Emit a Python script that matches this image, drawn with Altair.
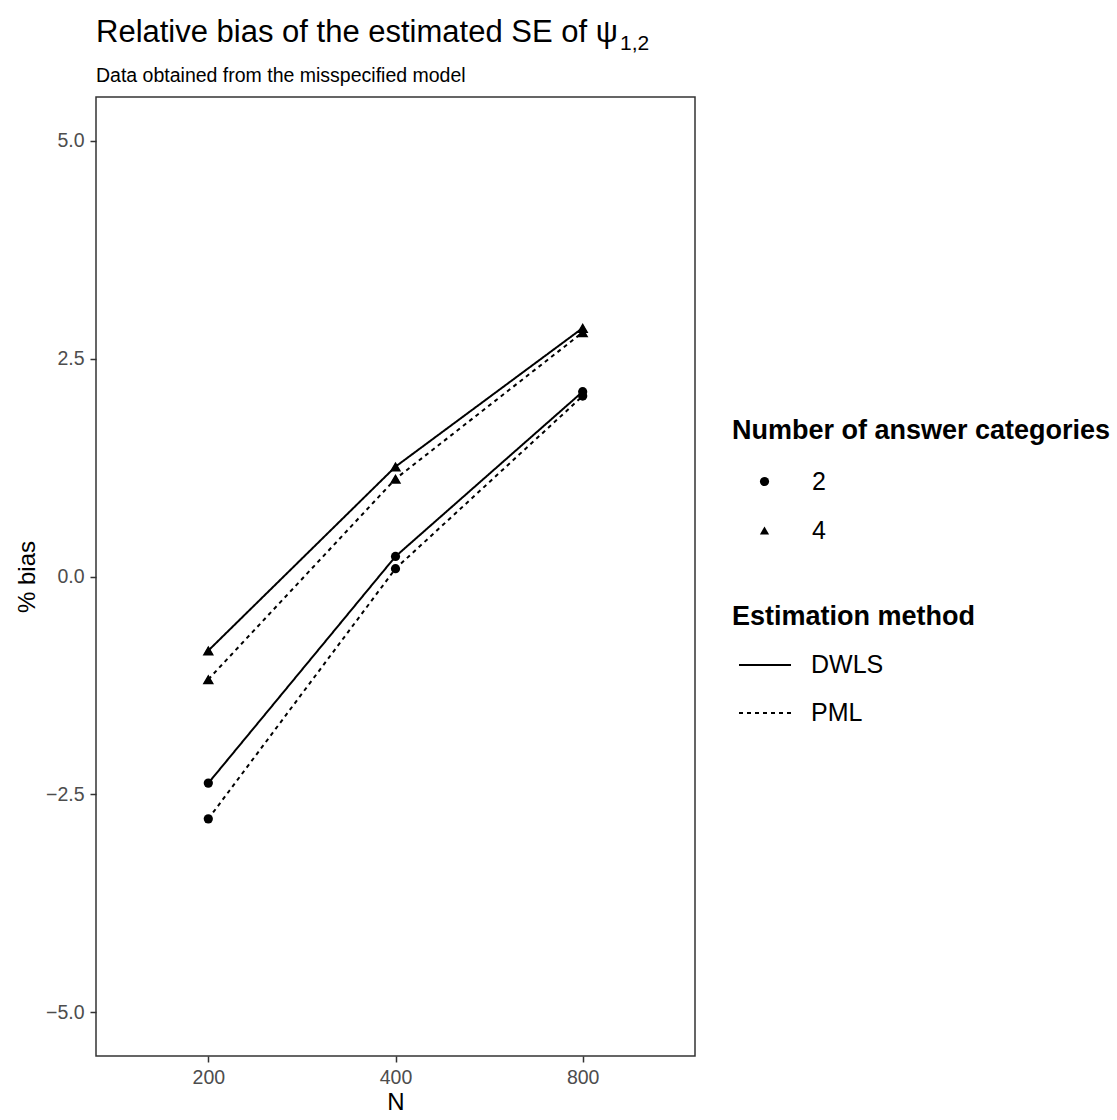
import altair as alt
import pandas as pd

# Sample sizes and the two design factors
sample_sizes = ["200", "400", "800"]
answer_categories = ["2", "2", "4", "4"]
methods = ["DWLS", "PML", "DWLS", "PML"]

# % relative bias of the estimated SE, one list per (categories, method) series
bias_values = [
    [-2.37, 0.23, 2.12],   # 2 categories, DWLS
    [-2.78, 0.09, 2.07],   # 2 categories, PML
    [-0.85, 1.26, 2.85],   # 4 categories, DWLS
    [-1.18, 1.12, 2.80],   # 4 categories, PML
]

title_text = "Relative bias of the estimated SE of  ψ"
title_subscript = "1,2"
subtitle_text = "Data obtained from the misspecified model"

rows = []
for cat, meth, series in zip(answer_categories, methods, bias_values):
    for n, v in zip(sample_sizes, series):
        rows.append({"N": n, "categories": cat, "method": meth, "bias": v})
df = pd.DataFrame(rows)

FONT = "Liberation Sans"

x_enc = alt.X(
    "N:O",
    sort=sample_sizes,
    scale=alt.Scale(type="point", padding=0.6),
    axis=alt.Axis(title="N", labelAngle=0, titlePadding=4),
)
y_enc = alt.Y(
    "bias:Q",
    scale=alt.Scale(domain=[-5.5, 5.5], nice=False, zero=False),
    axis=alt.Axis(values=[-5, -2.5, 0, 2.5, 5], format=".1f", title="% bias", titlePadding=6),
)

base = alt.Chart(df)

lines = base.mark_line(color="black", strokeWidth=2).encode(
    x=x_enc,
    y=y_enc,
    detail="categories:N",
    strokeDash=alt.StrokeDash(
        "method:N",
        scale=alt.Scale(domain=["DWLS", "PML"], range=[[1, 0], [4, 4]]),
        legend=alt.Legend(
            title="Estimation method",
            orient="none",
            legendX=636,
            legendY=507,
            symbolType="stroke",
            symbolSize=2704,
            symbolStrokeColor="black",
            symbolStrokeWidth=2,
            symbolOffset=6,
            labelOffset=19,
            rowPadding=8,
            titlePadding=7,
        ),
    ),
)

points = base.mark_point(filled=True, color="black", opacity=1, size=85).encode(
    x=x_enc,
    y=y_enc,
    shape=alt.Shape(
        "categories:N",
        scale=alt.Scale(domain=["2", "4"], range=["circle", "triangle-up"]),
        legend=alt.Legend(
            title="Number of answer categories",
            orient="none",
            legendX=636,
            legendY=321,
            symbolSize=85,
            symbolFillColor="black",
            symbolStrokeColor="black",
            symbolStrokeWidth=0,
            symbolOffset=20,
            labelOffset=35,
            rowPadding=23,
            titlePadding=24,
        ),
    ),
)

# triangles for 4 categories are drawn a little larger than the circles
triangles = base.transform_filter(alt.datum.categories == "4").mark_point(
    filled=True, color="black", opacity=1, shape="triangle-up", size=130
).encode(x=x_enc, y=y_enc)

# Title, psi subscript and subtitle drawn above the plot frame
title_mark = alt.Chart(pd.DataFrame({"t": [title_text]})).mark_text(
    align="left", baseline="alphabetic", fontSize=31, font=FONT, color="black"
).encode(text="t:N", x=alt.value(0), y=alt.value(-55))

subscript_mark = alt.Chart(pd.DataFrame({"t": [title_subscript]})).mark_text(
    align="left", baseline="alphabetic", fontSize=21, font=FONT, color="black"
).encode(text="t:N", x=alt.value(524), y=alt.value(-47))

subtitle_mark = alt.Chart(pd.DataFrame({"t": [subtitle_text]})).mark_text(
    align="left", baseline="alphabetic", fontSize=19.5, font=FONT, color="black"
).encode(text="t:N", x=alt.value(0), y=alt.value(-15))

chart = (
    alt.layer(lines, points, triangles, title_mark, subscript_mark, subtitle_mark)
    .properties(
        width=599,
        height=959,
        autosize=alt.AutoSizeParams(type="none"),
        padding={"left": 96, "top": 97, "right": 422, "bottom": 64},
    )
    .configure(font=FONT)
    .configure_view(stroke="#333333", strokeWidth=1.5)
    .configure_axis(
        grid=False,
        domain=False,
        tickColor="#333333",
        tickWidth=1.5,
        tickSize=6,
        labelColor="#4D4D4D",
        labelFontSize=19.5,
        labelPadding=6,
        titleFontSize=24,
        titleFontWeight="normal",
        titleColor="black",
        labelFont=FONT,
        titleFont=FONT,
    )
    .configure_legend(
        titleFontSize=27,
        titleFontWeight="bold",
        titleColor="black",
        titleFont=FONT,
        titleLimit=1000,
        labelFontSize=25,
        labelColor="black",
        labelFont=FONT,
        labelLimit=1000,
        padding=0,
    )
)

chart.save("out.html", embed_options={"renderer": "svg", "actions": False})
